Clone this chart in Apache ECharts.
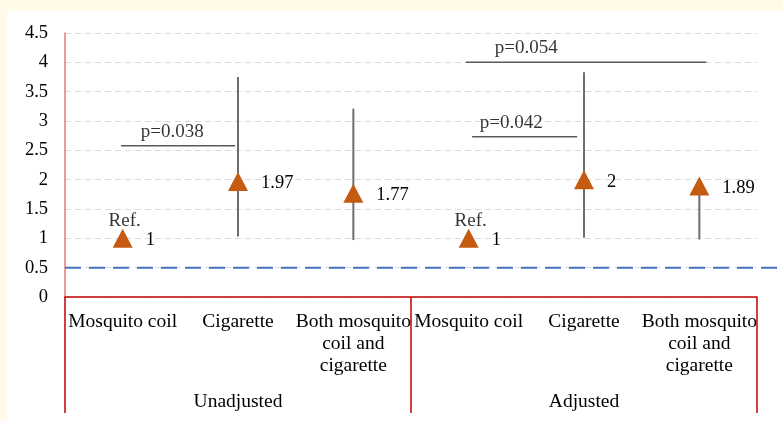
<!DOCTYPE html>
<html>
<head>
<meta charset="utf-8">
<script src="https://cdn.jsdelivr.net/npm/echarts@6/dist/echarts.min.js"></script>
<style>
  html, body { margin: 0; padding: 0; background: #FFFBE8; width: 783px; height: 421px; overflow: hidden; }
  #chart { position: absolute; left: 7px; top: 11px; width: 776px; height: 410px; background: #ffffff; }
</style>
</head>
<body>
<div id="chart"></div>
<script>
// ---- data ----
const categories = ['Mosquito coil', 'Cigarette', 'Both mosquito\ncoil and\ncigarette',
                    'Mosquito coil', 'Cigarette', 'Both mosquito\ncoil and\ncigarette'];
const groups = ['Unadjusted', 'Adjusted'];
const orValues = [1, 1.97, 1.77, 1, 2, 1.89];
const ciLow  = [null, 1.03, 0.97, null, 1.01, 0.98];
const ciHigh = [null, 3.75, 3.21, null, 3.83, 1.89];
const refLabels = ['Ref.', '', '', 'Ref.', '', ''];
const yMin = 0, yMax = 4.5, yStep = 0.5;
const refLine = 0.5;
// p-value brackets (category index units)
const pTexts = ['p=0.038', 'p=0.042', 'p=0.054'];
const pFrom  = [-0.015, 3.03, 2.975];
const pTo    = [0.975, 3.94, 5.06];
const pLevel = [2.58, 2.73, 4.0];
const pTextX = [0.43, 3.37, 3.50];

// ---- build ----
const serif = "'Liberation Serif', 'Times New Roman', serif";
const errData = [];
ciLow.forEach((lo, i) => { if (lo != null) errData.push([i, lo, ciHigh[i]]); });
const triData = orValues.map((v, i) => [i, v]);
const refData = [];
refLabels.forEach((t, i) => { if (t) refData.push({ value: [i, orValues[i]], name: t }); });
const bracketData = pTexts.map((t, i) => [pFrom[i], pTo[i], pLevel[i]]);
const pTextData = pTexts.map((t, i) => ({ value: [pTextX[i], pLevel[i]], name: t }));

const chart = echarts.init(document.getElementById('chart'), null, { renderer: 'canvas' });
chart.setOption({
  animation: false,
  grid: [
    { left: 58, right: 26, top: 22, bottom: 124 },
    { left: 58, right: 0, top: 22, bottom: 124 }
  ],
  xAxis: [
    {
      type: 'category', gridIndex: 0, data: categories, position: 'bottom',
      axisLine: { show: true, onZero: false, lineStyle: { color: '#C00000', width: 1.5 } },
      axisTick: { show: true, interval: (i) => i % 3 === 0, length: 116, lineStyle: { color: '#C00000', width: 1.5 } },
      axisLabel: { interval: 0, margin: 14, fontFamily: serif, fontSize: 19.5, lineHeight: 22, color: '#000' },
      splitLine: { show: false }
    },
    {
      type: 'category', gridIndex: 0, data: groups, position: 'bottom', offset: 87,
      axisLine: { show: false, onZero: false }, axisTick: { show: false },
      axisLabel: { interval: 0, margin: 8, fontFamily: serif, fontSize: 19.5, color: '#000' }
    },
    { type: 'value', gridIndex: 0, min: -0.5, max: 5.5, show: false, axisLine: { onZero: false } },
    { type: 'value', gridIndex: 1, min: 0, max: 1, show: false, axisLine: { onZero: false } }
  ],
  yAxis: [
    {
      type: 'value', gridIndex: 0, min: yMin, max: yMax, interval: yStep,
      axisLine: { show: true, onZero: false, lineStyle: { color: '#E8777A', width: 1.5 } },
      axisTick: { show: false },
      axisLabel: { margin: 17, fontFamily: serif, fontSize: 18.5, color: '#000' },
      splitLine: { show: true, lineStyle: { color: '#D9D9D9', type: [6, 4], width: 1 } }
    },
    { type: 'value', gridIndex: 1, min: yMin, max: yMax, show: false, axisLine: { onZero: false } }
  ],
  series: [
    {
      type: 'custom', xAxisIndex: 0, yAxisIndex: 0, data: errData, z: 2,
      renderItem: (params, api) => {
        const p1 = api.coord([api.value(0), api.value(1)]);
        const p2 = api.coord([api.value(0), api.value(2)]);
        return { type: 'line', shape: { x1: p1[0], y1: p1[1], x2: p2[0], y2: p2[1] },
                 style: { stroke: '#6E6E6E', lineWidth: 2 } };
      }
    },
    {
      type: 'scatter', xAxisIndex: 0, yAxisIndex: 0, data: triData, z: 3,
      symbol: 'triangle', symbolSize: [20, 19],
      itemStyle: { color: '#C55A11', opacity: 1 },
      label: { show: true, position: 'right', distance: 13, offset: [0, 2],
               formatter: (p) => String(p.value[1]), fontFamily: serif, fontSize: 18.5, color: '#000' }
    },
    {
      type: 'scatter', xAxisIndex: 0, yAxisIndex: 0, data: refData, z: 4,
      symbolSize: 1, itemStyle: { color: 'rgba(0,0,0,0)' },
      label: { show: true, position: 'inside', offset: [2, -17], formatter: '{b}',
               fontFamily: serif, fontSize: 19, color: '#000' }
    },
    {
      type: 'custom', xAxisIndex: 2, yAxisIndex: 0, data: bracketData, z: 2,
      renderItem: (params, api) => {
        const p1 = api.coord([api.value(0), api.value(2)]);
        const p2 = api.coord([api.value(1), api.value(2)]);
        return { type: 'line', shape: { x1: p1[0], y1: p1[1], x2: p2[0], y2: p2[1] },
                 style: { stroke: '#595959', lineWidth: 1.5 } };
      }
    },
    {
      type: 'scatter', xAxisIndex: 2, yAxisIndex: 0, data: pTextData, z: 4,
      symbolSize: 1, itemStyle: { color: 'rgba(0,0,0,0)' },
      label: { show: true, position: 'inside', offset: [0, -14], formatter: '{b}',
               fontFamily: serif, fontSize: 19, color: '#000' }
    },
    {
      type: 'line', xAxisIndex: 3, yAxisIndex: 1, data: [[0, refLine], [1, refLine]],
      symbol: 'none', z: 1,
      lineStyle: { color: '#4472C4', width: 2, type: [16, 8] }
    }
  ]
});
</script>
</body>
</html>
